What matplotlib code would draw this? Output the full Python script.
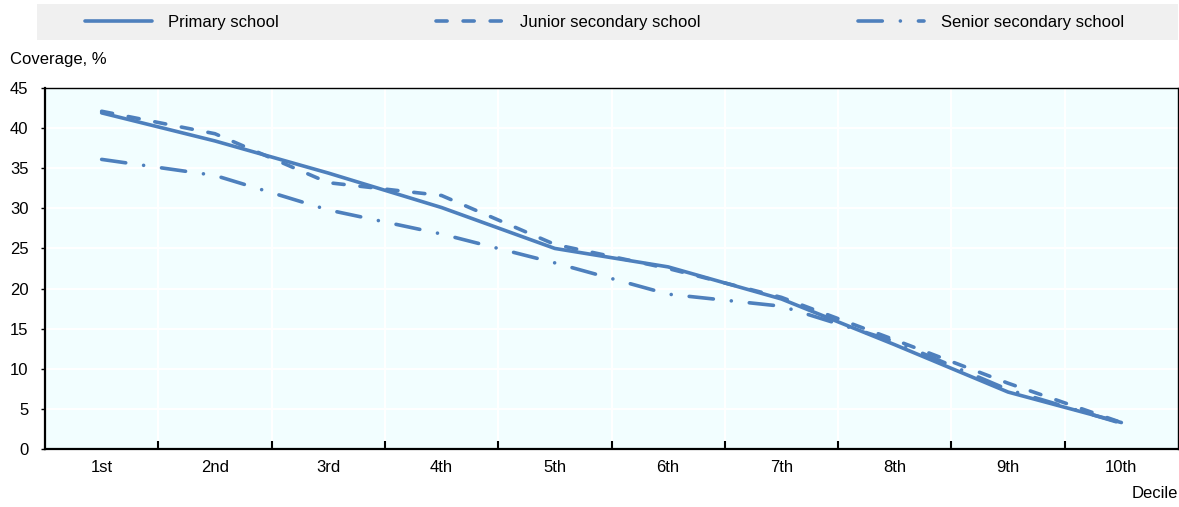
import numpy as np
import matplotlib
matplotlib.use("Agg")
import matplotlib.pyplot as plt
from matplotlib.patches import Rectangle

plt.rcParams['font.family'] = ['Liberation Sans', 'DejaVu Sans']
plt.rcParams['lines.scale_dashes'] = False

deciles = ["1st", "2nd", "3rd", "4th", "5th", "6th", "7th", "8th", "9th", "10th"]
primary = [41.9, 38.4, 34.4, 30.1, 25.0, 22.7, 18.7, 13.0, 7.1, 3.3]
junior = [42.1, 39.3, 33.2, 31.6, 25.5, 22.5, 18.9, 13.6, 8.2, 3.3]
senior = [36.1, 34.1, 29.8, 26.8, 23.2, 19.3, 17.8, 13.4, 7.4, 3.2]
yticks = list(range(0, 46, 5))

blue = "#4E80BD"
W, H = 1179, 507
fig = plt.figure(figsize=(W/100, H/100), dpi=100)
ax = fig.add_axes([45/W, 1-449/H, 1133/W, 361/H])
ax.set_facecolor("#F2FEFF")

x = np.arange(len(deciles))
l1, = ax.plot(x, primary, color=blue, lw=2.6, solid_joinstyle="round",
              solid_capstyle="round", label="Primary school")
l2, = ax.plot(x, junior, color=blue, lw=2.6, dash_capstyle="round",
              dash_joinstyle="round", linestyle=(0, (8.0, 11.5)),
              label="Junior secondary school")
l3, = ax.plot(x, senior, color=blue, lw=2.6, dash_capstyle="round",
              dash_joinstyle="round", linestyle=(0, (17.5, 13.0, 0.01, 13.0)),
              label="Senior secondary school")

ax.set_xlim(-0.5, len(deciles)-0.5)
ax.set_ylim(0, 45)
ax.set_yticks(yticks)
ax.set_xticks(np.arange(0.5, len(deciles)-1, 1))
ax.set_xticklabels([])
ax.set_xticks(x, minor=True)
ax.set_xticklabels(deciles, minor=True)
ax.tick_params(axis="x", which="major", direction="in", length=6, width=1.5)
ax.tick_params(axis="x", which="minor", length=0, pad=8, labelsize=12)
ax.tick_params(axis="y", direction="out", length=3, width=1, pad=9, labelsize=12)

ax.grid(True, which="major", color="white", lw=1.5)
ax.set_axisbelow(True)
for s in ["left", "bottom"]:
    ax.spines[s].set_linewidth(1.6)
for s in ["top", "right"]:
    ax.spines[s].set_linewidth(1.0)

fig.text(10/W, 1-60/H, "Coverage, %", fontsize=12, va="center", ha="left")
fig.text(1178/W, 1-493/H, "Decile", fontsize=12, va="center", ha="right")

fig.patches.append(Rectangle((37/W, 1-40/H), 1141/W, 36/H, transform=fig.transFigure,
                             facecolor="#F0F0F0", edgecolor="none", zorder=0))
fig.legend(handles=[l1, l2, l3], loc="center", ncol=3, mode="expand",
           bbox_to_anchor=(85/W, 1-40/H, (1124-85)/W, 36/H), frameon=False,
           borderpad=0, borderaxespad=0, handlelength=4.0, handletextpad=1.0,
           fontsize=12)

fig.savefig("out.png", dpi=100)
